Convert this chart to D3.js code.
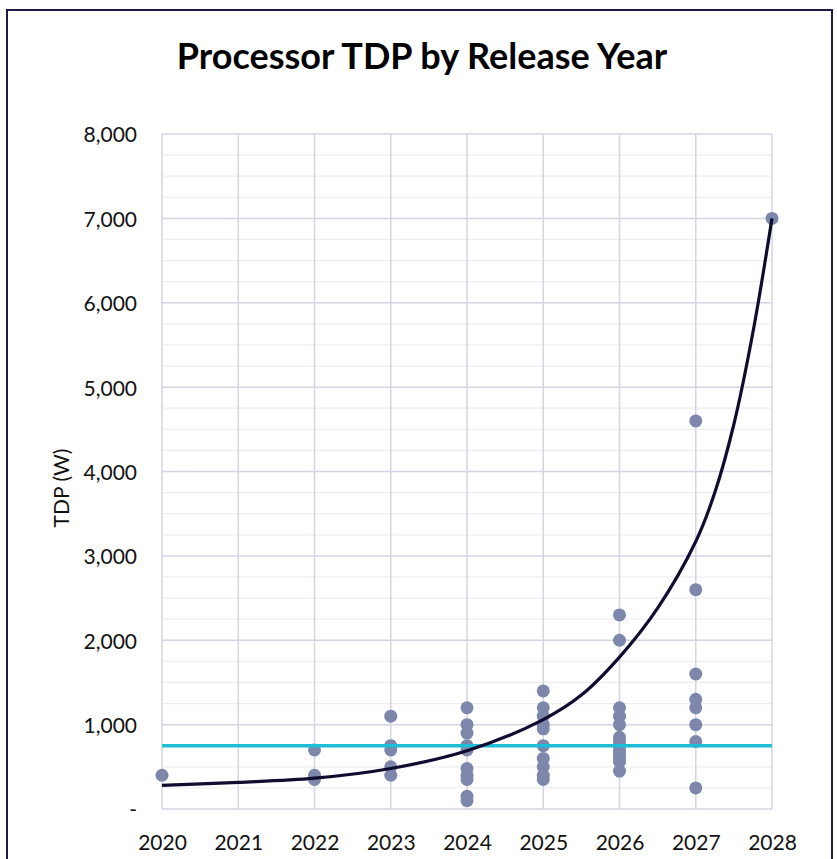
<!DOCTYPE html>
<html>
<head>
<meta charset="utf-8">
<script src="https://cdn.jsdelivr.net/npm/d3@7"></script>
<style>
  html, body { margin: 0; padding: 0; background: #ffffff; }
  svg { display: block; }
</style>
</head>
<body>
<div id="chart"></div>
<script>
// Release years and processor TDP values (W)
var releaseYears = [
    2020,
    2022, 2022, 2022,
    2023, 2023, 2023, 2023, 2023,
    2024, 2024, 2024, 2024, 2024, 2024, 2024, 2024, 2024, 2024,
    2025, 2025, 2025, 2025, 2025, 2025, 2025, 2025, 2025, 2025,
    2026, 2026, 2026, 2026, 2026, 2026, 2026, 2026, 2026, 2026, 2026, 2026, 2026,
    2027, 2027, 2027, 2027, 2027, 2027, 2027, 2027,
    2028
];
var tdpValues = [
    400,
    700, 400, 350,
    1100, 750, 700, 500, 400,
    1200, 1000, 900, 750, 700, 480, 400, 350, 150, 100,
    1400, 1200, 1100, 1000, 950, 750, 600, 500, 400, 350,
    2300, 2000, 1200, 1100, 1000, 850, 800, 750, 700, 650, 600, 560, 450,
    4600, 2600, 1600, 1300, 1200, 1000, 800, 250,
    7000
];

// Trend curve
var trendYears = [2020, 2021, 2022, 2023, 2024, 2025, 2025.5, 2026, 2026.5, 2027, 2027.25, 2027.5, 2027.75, 2028];
var trendTdp   = [280, 315, 365, 480, 690, 1060, 1350, 1800, 2380, 3170, 3750, 4560, 5650, 7000];

// Horizontal reference level
var referenceTdp = 750;

var xTicks = [2020, 2021, 2022, 2023, 2024, 2025, 2026, 2027, 2028];
var yTicks = [0, 1000, 2000, 3000, 4000, 5000, 6000, 7000, 8000];
var yMinorTicks = d3.range(0, 8001, 250);

var w = 837, h = 859;
var plot = { left: 162, right: 772, top: 134, bottom: 809 };
var font = "Lato, 'Open Sans', sans-serif";

var svg = d3.select("#chart").append("svg")
    .attr("width", w)
    .attr("height", h);

svg.append("rect")
    .attr("width", w).attr("height", h)
    .attr("fill", "#ffffff");

// outer frame (bottom edge runs off the picture)
svg.append("rect")
    .attr("x", 7).attr("y", 10)
    .attr("width", 825).attr("height", 880)
    .attr("fill", "none")
    .attr("stroke", "#1d1a45")
    .attr("stroke-width", 2);

var x = d3.scaleLinear().domain([2020, 2028]).range([plot.left, plot.right]);
var y = d3.scaleLinear().domain([0, 8000]).range([plot.bottom, plot.top]);

// --- grid ---
svg.append("g").selectAll("line")
    .data(yMinorTicks.filter(d => d % 1000 !== 0))
    .enter().append("line")
    .attr("x1", plot.left).attr("x2", plot.right)
    .attr("y1", d => y(d)).attr("y2", d => y(d))
    .attr("stroke", "#eeeef2")
    .attr("stroke-width", 1.3);

svg.append("g").selectAll("line")
    .data(yTicks)
    .enter().append("line")
    .attr("x1", plot.left).attr("x2", plot.right)
    .attr("y1", d => y(d)).attr("y2", d => y(d))
    .attr("stroke", "#d3d4e4")
    .attr("stroke-width", 1.5);

svg.append("g").selectAll("line")
    .data(xTicks)
    .enter().append("line")
    .attr("x1", d => x(d)).attr("x2", d => x(d))
    .attr("y1", plot.top).attr("y2", plot.bottom)
    .attr("stroke", "#d3d4e4")
    .attr("stroke-width", 1.5);

// --- axes (labels only, no domain lines) ---
var yAxis = svg.append("g")
    .attr("transform", `translate(${plot.left - 25},0)`)
    .call(d3.axisLeft(y).tickValues(yTicks).tickSize(0).tickPadding(0)
        .tickFormat(d => d === 0 ? "-" : d3.format(",")(d)));
yAxis.select(".domain").remove();
yAxis.selectAll("text")
    .attr("font-family", font)
    .attr("font-size", 21)
    .attr("fill", "#111111")
    .attr("dy", "0.38em");

var xAxis = svg.append("g")
    .attr("transform", `translate(0,${plot.bottom + 26})`)
    .call(d3.axisBottom(x).tickValues(xTicks).tickSize(0).tickPadding(0)
        .tickFormat(d3.format("d")));
xAxis.select(".domain").remove();
xAxis.selectAll("text")
    .attr("font-family", font)
    .attr("font-size", 21)
    .attr("fill", "#111111")
    .attr("dy", "0.71em");

// --- data points ---
var points = releaseYears.map((yr, i) => ({ year: yr, tdp: tdpValues[i] }));
svg.append("g").selectAll("circle")
    .data(points)
    .enter().append("circle")
    .attr("cx", d => x(d.year))
    .attr("cy", d => y(d.tdp))
    .attr("r", 6.5)
    .attr("fill", "#7d87ab");

// --- reference line ---
svg.append("line")
    .attr("x1", x(2020)).attr("x2", x(2028))
    .attr("y1", y(referenceTdp)).attr("y2", y(referenceTdp))
    .attr("stroke", "#1dbed6")
    .attr("stroke-width", 3.5);

// --- trend curve ---
var trend = trendYears.map((yr, i) => ({ year: yr, tdp: trendTdp[i] }));
svg.append("path")
    .datum(trend)
    .attr("fill", "none")
    .attr("stroke", "#100c30")
    .attr("stroke-width", 3.2)
    .attr("d", d3.line()
        .x(d => x(d.year))
        .y(d => y(d.tdp))
        .curve(d3.curveCatmullRom.alpha(0.5)));

// --- titles ---
svg.append("text")
    .attr("x", 422).attr("y", 69)
    .attr("text-anchor", "middle")
    .attr("font-family", font)
    .attr("font-weight", "bold")
    .attr("font-size", 36)
    .attr("fill", "#000000")
    .text("Processor TDP by Release Year");

svg.append("text")
    .attr("transform", `translate(69,488) rotate(-90)`)
    .attr("text-anchor", "middle")
    .attr("font-family", font)
    .attr("font-size", 21)
    .attr("fill", "#111111")
    .text("TDP (W)");
</script>
</body>
</html>
